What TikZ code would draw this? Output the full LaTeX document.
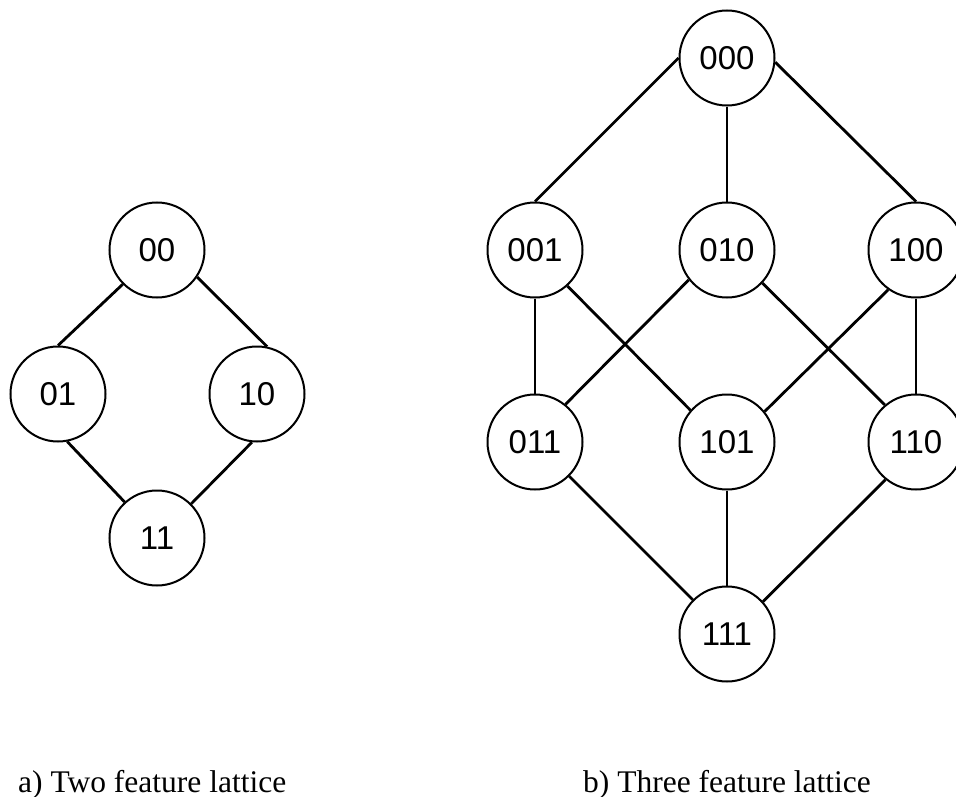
\documentclass[tikz,border=0pt]{standalone}
\usepackage{fontspec}
\setmainfont{Liberation Serif}
\newfontfamily\labelfont{Liberation Sans}

\begin{document}
\begin{tikzpicture}[x=1bp, y=-1bp,
    state/.style={draw, circle, line width=2bp, minimum size=95bp, inner sep=0pt,
                  font=\labelfont\fontsize{33bp}{38bp}\selectfont},
    link/.style={line width=2.8bp},
    vlink/.style={line width=1.9bp},
    caption/.style={anchor=base west, inner sep=0pt, font=\fontsize{31.5bp}{36bp}\selectfont}]

      % 0. Marco de la figura
      \clip (0,0) rectangle (956,797);

      % 1. RETICULO DE DOS RASGOS
      \node[state] (n00) at (157,250) {00};
      \node[state] (n01) at (58,394) {01};
      \node[state] (n10) at (257,394) {10};
      \node[state] (n11) at (157,538) {11};

      \draw[link] (n00.south west) -- (n01.north);
      \draw[link] (n00.-34) -- (n10.78);
      \draw[link] (n01.-79) -- (n11.132);
      \draw[link] (n10.-96) -- (n11.45);

      % 2. RETICULO DE TRES RASGOS
      % Nivel 0
      \node[state] (n000) at (727,58) {000};
      % Nivel 1
      \node[state] (n001) at (535,250) {001};
      \node[state] (n010) at (727,250) {010};
      \node[state] (n100) at (916,250) {100};
      % Nivel 2
      \node[state] (n011) at (535,442) {011};
      \node[state] (n101) at (727,442) {101};
      \node[state] (n110) at (916,442) {110};
      % Nivel 3
      \node[state] (n111) at (727,634) {111};

      % Conexiones nivel 0 - 1
      \draw[link] (n000.west) -- (n001.north);
      \draw[vlink] (n000.south) -- (n010.north);
      \draw[link] (n000.-5) -- (n100.north);

      % Conexiones nivel 1 - 2
      \draw[vlink] (n001.south) -- (n011.north);
      \draw[link] (n001.-48) -- (n101.139);
      \draw[link] (n010.-142) -- (n011.51);
      \draw[link] (n010.-43) -- (n110.130);
      \draw[link] (n100.-125) -- (n101.39);
      \draw[vlink] (n100.south) -- (n110.north);

      % Conexiones nivel 2 - 3
      \draw[link] (n011.south east) -- (n111.north west);
      \draw[vlink] (n101.south) -- (n111.north);
      \draw[link] (n110.-129) -- (n111.42);

      % 3. TITULOS
      \node[caption] (capA) at (18,792) {a) Two feature lattice};
      \node[caption] (capB) at (583,792) {b) Three feature lattice};

\end{tikzpicture}
\end{document}
